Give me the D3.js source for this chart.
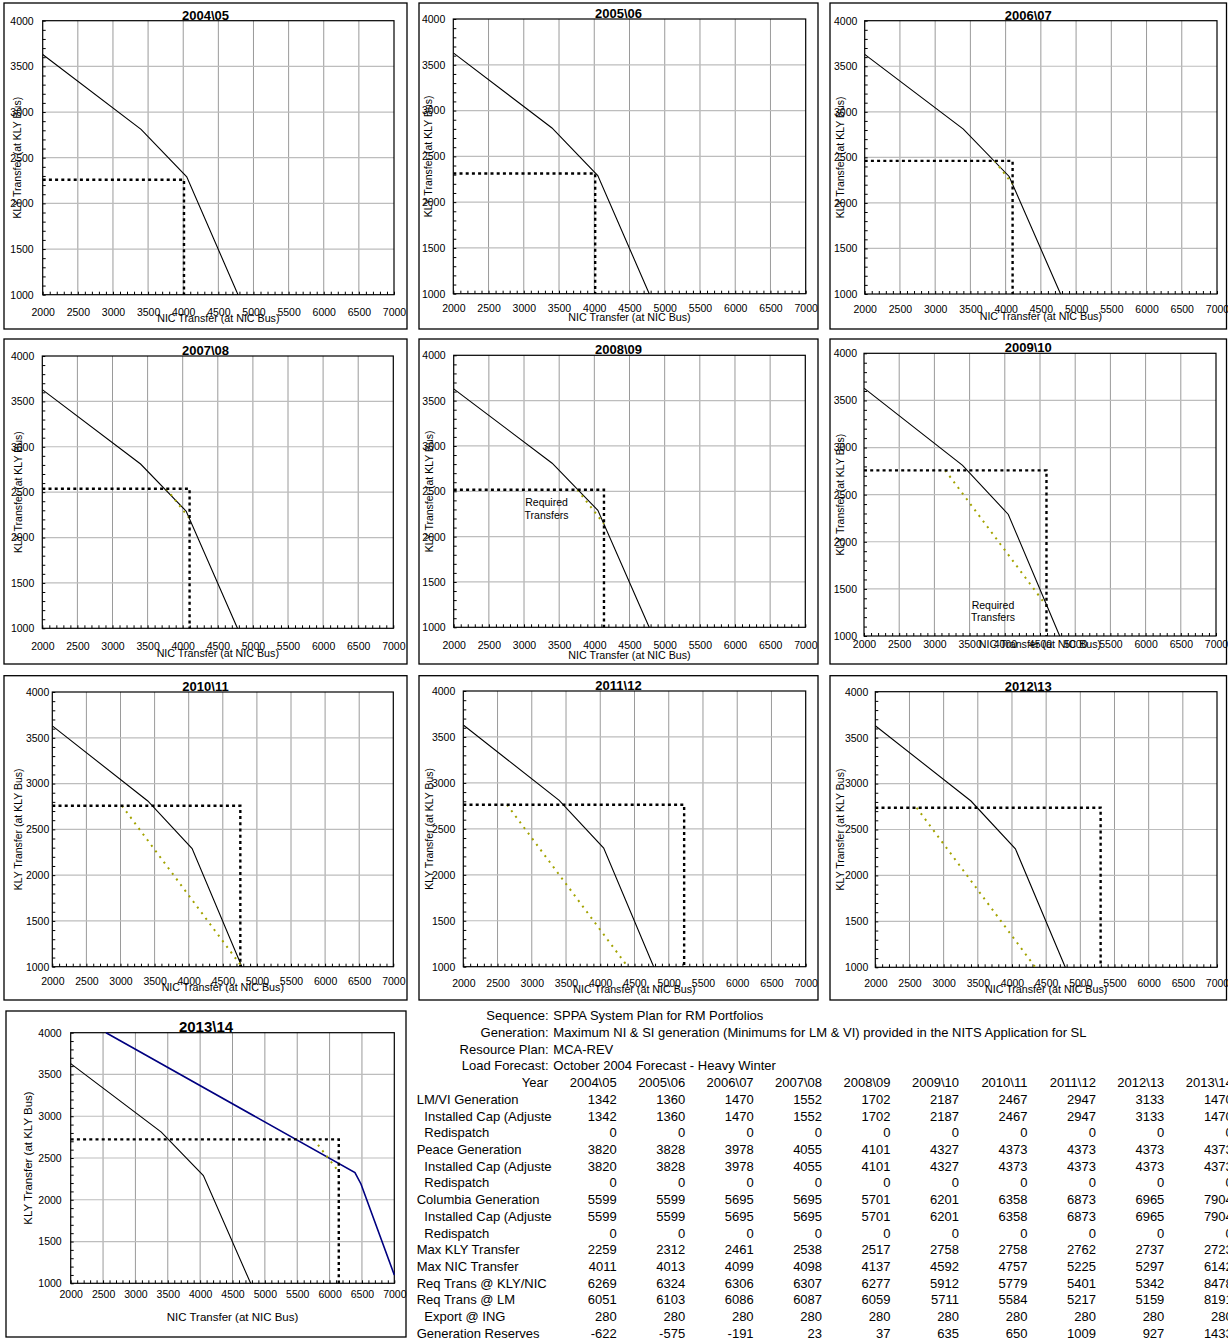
<!DOCTYPE html>
<html>
<head>
<meta charset="utf-8">
<script src="https://cdn.jsdelivr.net/npm/d3@7"></script>
<style>
  body { margin: 0; background: #fff; }
  svg { display: block; font-family: "Liberation Sans", Arial, sans-serif; }
</style>
</head>
<body>
<div id="page"></div>
<script>
// ---- data ----
const years = ["2004\\05", "2005\\06", "2006\\07", "2007\\08", "2008\\09",
  "2009\\10", "2010\\11", "2011\\12", "2012\\13", "2013\\14"];

// nomogram limit (same in every year)
const limitNIC = [2000, 3400, 4050, 4780];
const limitKLY = [3630, 2810, 2290, 1000];

// upgraded limit shown only in 2013\14
const upgradeNIC = [2546, 6392, 6485, 7000];
const upgradeKLY = [4000, 2325, 2189, 1100];

const lmviGen = [1342, 1360, 1470, 1552, 1702, 2187, 2467, 2947, 3133, 1470];
const lmviCap = [1342, 1360, 1470, 1552, 1702, 2187, 2467, 2947, 3133, 1470];
const lmviRedispatch = [0, 0, 0, 0, 0, 0, 0, 0, 0, 0];
const peaceGen = [3820, 3828, 3978, 4055, 4101, 4327, 4373, 4373, 4373, 4373];
const peaceCap = [3820, 3828, 3978, 4055, 4101, 4327, 4373, 4373, 4373, 4373];
const peaceRedispatch = [0, 0, 0, 0, 0, 0, 0, 0, 0, 0];
const columbiaGen = [5599, 5599, 5695, 5695, 5701, 6201, 6358, 6873, 6965, 7904];
const columbiaCap = [5599, 5599, 5695, 5695, 5701, 6201, 6358, 6873, 6965, 7904];
const columbiaRedispatch = [0, 0, 0, 0, 0, 0, 0, 0, 0, 0];
const maxKLY = [2259, 2312, 2461, 2538, 2517, 2758, 2758, 2762, 2737, 2723];
const maxNIC = [4011, 4013, 4099, 4098, 4137, 4592, 4757, 5225, 5297, 6142];
const reqKLYNIC = [6269, 6324, 6306, 6307, 6277, 5912, 5779, 5401, 5342, 8478];
const reqLM = [6051, 6103, 6086, 6087, 6059, 5711, 5584, 5217, 5159, 8191];
const exportING = [280, 280, 280, 280, 280, 280, 280, 280, 280, 280];
const genReserves = [-622, -575, -191, 23, 37, 635, 650, 1009, 927, 1433];

const xTicks = [2000, 2500, 3000, 3500, 4000, 4500, 5000, 5500, 6000, 6500, 7000];
const yTicks = [1000, 1500, 2000, 2500, 3000, 3500, 4000];

const headerLabels = ["Sequence:", "Generation:", "Resource Plan:", "Load Forecast:"];
const headerValues = ["SPPA System Plan for RM Portfolios",
  "Maximum NI & SI generation (Minimums for LM & VI) provided in the NITS Application for SL",
  "MCA-REV", "October 2004 Forecast - Heavy Winter"];

const rowLabels = ["LM/VI Generation", "Installed Cap (Adjusted)", "Redispatch",
  "Peace Generation", "Installed Cap (Adjusted)", "Redispatch",
  "Columbia Generation", "Installed Cap (Adjusted)", "Redispatch",
  "Max KLY Transfer", "Max NIC Transfer", "Req Trans @ KLY/NIC", "Req Trans @ LM",
  "Export @ ING", "Generation Reserves"];
const rowIndent = [0, 1, 1, 0, 1, 1, 0, 1, 1, 0, 0, 0, 0, 1, 0];
const rowValues = [lmviGen, lmviCap, lmviRedispatch, peaceGen, peaceCap, peaceRedispatch,
  columbiaGen, columbiaCap, columbiaRedispatch, maxKLY, maxNIC, reqKLYNIC, reqLM,
  exportING, genReserves];

// ---- layout of each small chart (chart box, plot box, label offsets) ----
const layout = [
  {box: [4, 3, 407, 329], plot: [42.7, 20.7, 394, 294.7], gap: 9, xt: 21, xl: 27.5, yl: -21.7},
  {box: [419, 3, 818, 329], plot: [453.3, 19, 805.7, 293.7], gap: 8, xt: 18, xl: 27.3, yl: -21},
  {box: [830, 3, 1226.5, 329], plot: [864.7, 20.7, 1217, 294], gap: 7.4, xt: 19, xl: 26, yl: -20.7},
  {box: [4, 339, 407, 664], plot: [42.3, 356, 393.3, 628.3], gap: 8, xt: 21.7, xl: 28.7, yl: -20.3},
  {box: [419, 339, 818, 664], plot: [453.7, 355.3, 805.3, 627.3], gap: 8, xt: 22, xl: 31.7, yl: -20.7},
  {box: [830, 339, 1226.5, 664], plot: [864, 353.3, 1216, 636], gap: 7, xt: 12.3, xl: 12, yl: -20},
  {box: [4, 675.7, 407, 1000], plot: [52.3, 692, 393.3, 966.7], gap: 3, xt: 18.3, xl: 24.3, yl: -30},
  {box: [419, 675.7, 818, 1000], plot: [463.3, 691, 805.7, 966.7], gap: 8, xt: 20, xl: 26.3, yl: -30},
  {box: [830, 675.7, 1226.5, 1000], plot: [875.3, 691.7, 1217, 967.3], gap: 7, xt: 20, xl: 25.7, yl: -31},
  {box: [6, 1011, 406, 1337], plot: [70.7, 1032.7, 394.3, 1283.3], gap: 9, xt: 15, xl: 37.7, yl: -38.7, big: true}
];

// "Required Transfers" notes (panel index, centre in data units)
const notes = [
  {panel: 4, nic: 3320, kly: 2374},
  {panel: 5, nic: 3832, kly: 1328}
];

const svg = d3.select("#page").append("svg")
  .attr("width", 1228)
  .attr("height", 1340);

const line = d3.line();
const fmt = d3.format("d");

years.forEach((yr, i) => {
  const L = layout[i];
  const [bx0, by0, bx1, by1] = L.box;
  const [px0, py0, px1, py1] = L.plot;

  const x = d3.scaleLinear().domain([2000, 7000]).range([px0, px1]);
  const y = d3.scaleLinear().domain([1000, 4000]).range([py1, py0]);

  const g = svg.append("g");

  g.append("rect")
    .attr("x", bx0).attr("y", by0)
    .attr("width", bx1 - bx0).attr("height", by1 - by0)
    .attr("fill", "#fff").attr("stroke", "#000").attr("stroke-width", 1.3);

  // gridlines
  g.selectAll(".vg").data(xTicks.slice(1, -1)).enter().append("line")
    .attr("x1", d => x(d)).attr("x2", d => x(d))
    .attr("y1", py0).attr("y2", py1)
    .attr("stroke", "#9a9a9a").attr("stroke-width", 1);
  g.selectAll(".hg").data(yTicks.slice(1, -1)).enter().append("line")
    .attr("x1", px0).attr("x2", px1)
    .attr("y1", d => y(d)).attr("y2", d => y(d))
    .attr("stroke", "#bdbdbd").attr("stroke-width", 1.2);

  g.append("rect")
    .attr("x", px0).attr("y", py0)
    .attr("width", px1 - px0).attr("height", py1 - py0)
    .attr("fill", "none").attr("stroke", "#000").attr("stroke-width", 1.2);

  // minor ticks (inside), every 100
  const xMinor = g.append("g")
    .attr("transform", "translate(0," + py1 + ")")
    .call(d3.axisBottom(x).tickValues(d3.range(2000, 7001, 100)).tickSize(-3).tickFormat(""));
  const yMinor = g.append("g")
    .attr("transform", "translate(" + px0 + ",0)")
    .call(d3.axisLeft(y).tickValues(d3.range(1000, 4001, 100)).tickSize(-3).tickFormat(""));
  [xMinor, yMinor].forEach(a => {
    a.select(".domain").remove();
    a.selectAll("line").attr("stroke", "#000");
  });

  // tick labels
  const xLab = g.append("g")
    .attr("transform", "translate(0," + py1 + ")")
    .call(d3.axisBottom(x).tickValues(xTicks).tickSize(0).tickFormat(fmt));
  xLab.select(".domain").remove();
  xLab.selectAll("text")
    .attr("y", L.xt).attr("dy", null)
    .attr("font-size", "10.5px").attr("fill", "#000")
    .attr("font-family", "Liberation Sans, Arial, sans-serif");

  const yLab = g.append("g")
    .attr("transform", "translate(" + px0 + ",0)")
    .call(d3.axisLeft(y).tickValues(yTicks).tickSize(0).tickPadding(L.gap).tickFormat(fmt));
  yLab.select(".domain").remove();
  yLab.selectAll("text")
    .attr("font-size", "10.5px").attr("fill", "#000")
    .attr("font-family", "Liberation Sans, Arial, sans-serif");

  // clip
  const clipId = "clip" + i;
  g.append("clipPath").attr("id", clipId)
    .append("rect")
    .attr("x", px0).attr("y", py0 - 1)
    .attr("width", px1 - px0 + 1).attr("height", py1 - py0 + 2);
  const marks = g.append("g").attr("clip-path", "url(#" + clipId + ")");

  marks.append("path")
    .attr("d", line(limitNIC.map((v, k) => [x(v), y(limitKLY[k])])))
    .attr("fill", "none").attr("stroke", "#000").attr("stroke-width", 1.1);

  if (L.big) {
    marks.append("path")
      .attr("d", line(upgradeNIC.map((v, k) => [x(v), y(upgradeKLY[k])])))
      .attr("fill", "none").attr("stroke", "#000080").attr("stroke-width", 1.6);
  }

  // required transfer line: KLY + NIC = required
  const startNIC = reqKLYNIC[i] - maxKLY[i];
  const endNIC = Math.min(maxNIC[i], reqKLYNIC[i] - 1000);
  marks.append("path")
    .attr("d", line([[x(startNIC), y(maxKLY[i])], [x(endNIC), y(reqKLYNIC[i] - endNIC)]]))
    .attr("fill", "none").attr("stroke", "#a3a300").attr("stroke-width", 2)
    .attr("stroke-dasharray", "2,5");

  // max transfer box
  marks.append("path")
    .attr("d", "M" + x(2000) + "," + y(maxKLY[i]) + "H" + x(maxNIC[i]) + "V" + y(1000))
    .attr("fill", "none").attr("stroke", "#000").attr("stroke-width", 2.4)
    .attr("stroke-dasharray", "3,3.2");

  notes.filter(n => n.panel === i).forEach(n => {
    const t = g.append("text")
      .attr("x", x(n.nic)).attr("y", y(n.kly))
      .attr("text-anchor", "middle").attr("font-size", "10.5px");
    t.append("tspan").attr("x", x(n.nic)).attr("dy", "0.35em").text("Required");
    t.append("tspan").attr("x", x(n.nic)).attr("dy", "1.2em").text("Transfers");
  });

  // titles
  g.append("text")
    .attr("x", (bx0 + bx1) / 2).attr("y", py0 - 1)
    .attr("text-anchor", "middle")
    .attr("font-weight", "bold")
    .attr("font-size", L.big ? "15px" : "13px")
    .text(yr);

  g.append("text")
    .attr("x", (px0 + px1) / 2).attr("y", py1 + L.xl)
    .attr("text-anchor", "middle")
    .attr("font-size", L.big ? "11.5px" : "10.7px")
    .text("NIC Transfer (at NIC Bus)");

  g.append("text")
    .attr("transform", "translate(" + (px0 + L.yl) + "," + ((py0 + py1) / 2) + ") rotate(-90)")
    .attr("text-anchor", "middle")
    .attr("font-size", L.big ? "11.5px" : "10.5px")
    .text("KLY Transfer (at KLY Bus)");
});

// ---- summary table ----
const table = svg.append("g").attr("font-size", "13px");
const rowY = k => 1020.2 + k * 16.72;
const col = d3.scalePoint().domain(years).range([616.7, 1232.8]);

headerLabels.forEach((h, k) => {
  table.append("text").attr("x", 548.5).attr("y", rowY(k))
    .attr("text-anchor", "end").text(h);
  table.append("text").attr("x", 553.3).attr("y", rowY(k)).text(headerValues[k]);
});

table.append("text").attr("x", 548).attr("y", rowY(4))
  .attr("text-anchor", "end").text("Year");
years.forEach(yr => {
  table.append("text").attr("x", col(yr)).attr("y", rowY(4))
    .attr("text-anchor", "end").text(yr);
});

table.append("clipPath").attr("id", "labelClip")
  .append("rect").attr("x", 400).attr("y", 1000).attr("width", 152).attr("height", 340);

rowLabels.forEach((lab, r) => {
  const yy = rowY(5 + r);
  table.append("text")
    .attr("clip-path", "url(#labelClip)")
    .attr("x", rowIndent[r] ? 424.3 : 416.7).attr("y", yy)
    .text(lab);
  table.selectAll(null).data(rowValues[r]).enter().append("text")
    .attr("x", (d, c) => col(years[c])).attr("y", yy)
    .attr("text-anchor", "end")
    .text(d => d);
});
</script>
</body>
</html>
